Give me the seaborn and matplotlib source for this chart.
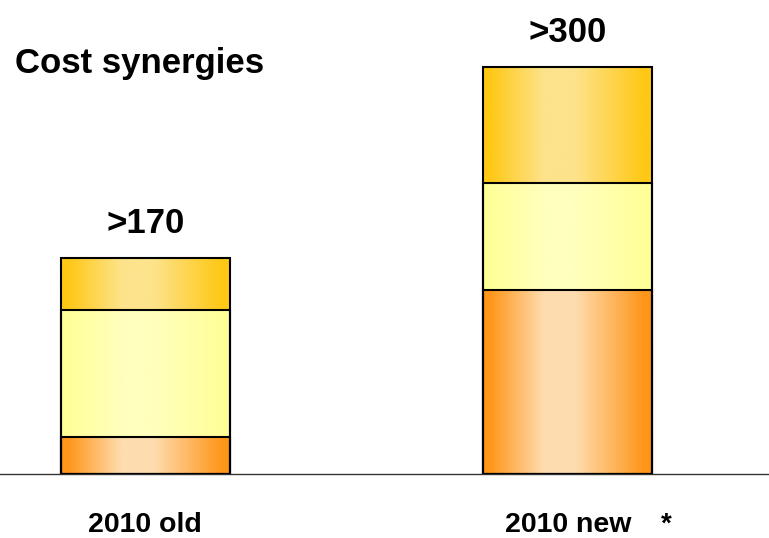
import numpy as np
import pandas as pd
import seaborn as sns
import matplotlib.pyplot as plt
from matplotlib.colors import LinearSegmentedColormap

# Data
years = ['2010 old', '2010 new']
bottom_part = [29, 145]
middle_part = [100, 84]
top_part = [41, 91]
total_labels = ['>170', '>300']

sns.set_style('white')
plt.rcParams['font.family'] = ['Liberation Sans', 'DejaVu Sans']
plt.rcParams['text.color'] = 'black'
plt.rcParams['xtick.color'] = 'black'
plt.rcParams['xtick.labelcolor'] = 'black'

# cumulative heights, drawn from the tallest layer down
df = pd.DataFrame({'year': years, 'bottom': bottom_part,
                   'middle': middle_part, 'top': top_part})
df['c1'] = df['bottom']
df['c2'] = df['bottom'] + df['middle']
df['c3'] = df['c2'] + df['top']

# edge colour -> light centre -> edge colour
layers = [
    ('c3', '#FFC815', '#FDE38C'),
    ('c2', '#FFFF99', '#FFFFBE'),
    ('c1', '#FF961A', '#FEDDB0'),
]
stops = [0, 0.04, 0.36, 0.54, 0.95, 1]

fig = plt.figure(figsize=(7.69, 5.38), dpi=100)
ax = fig.add_axes([0, 64 / 538, 1, 474 / 538])

grad = np.linspace(0, 1, 256).reshape(1, -1)
z = 1
for col, edge, mid in layers:
    n_before = len(ax.patches)
    sns.barplot(data=df, x='year', y=col, color=edge, width=0.4,
                edgecolor='black', linewidth=1.5, saturation=1, ax=ax)
    cmap = LinearSegmentedColormap.from_list(
        col, list(zip(stops, [edge, edge, mid, mid, edge, edge])))
    for p in ax.patches[n_before:]:
        x0, y0 = p.get_x(), p.get_y()
        x1, y1 = x0 + p.get_width(), y0 + p.get_height()
        p.set_zorder(z)
        img = ax.imshow(grad, extent=[x0, x1, y0, y1], aspect='auto',
                        cmap=cmap, zorder=z + 0.5, interpolation='bicubic')
        img.set_clip_path(p)
    z += 1

# outlines on top of the gradients
for p in ax.patches:
    p.set_facecolor('none')
    p.set_zorder(10)

ax.set_xlim(-0.344, 1.476)
ax.set_ylim(0, 373)

for i, lab in enumerate(total_labels):
    ax.annotate(lab, xy=(i, df['c3'][i]), xytext=(0, 18),
                textcoords='offset points', ha='center', va='baseline',
                fontsize=25, fontweight='bold')

ax.text(1.234, -0.08, '*', transform=ax.get_xaxis_transform(),
        ha='center', va='top', fontsize=20, fontweight='bold')

fig.text(15 / 769, 1 - 73 / 538, 'Cost synergies', ha='left',
         va='baseline', fontsize=25, fontweight='bold')

sns.despine(ax=ax, left=True, top=True, right=True)
ax.spines['bottom'].set_color('#333333')
ax.spines['bottom'].set_linewidth(1)
ax.set_yticks([])
ax.set_xlabel('')
ax.set_ylabel('')
ax.tick_params(axis='x', length=0, pad=27, labelsize=20.5)
for t in ax.get_xticklabels():
    t.set_fontweight('bold')

fig.savefig('out.png', dpi=100)
